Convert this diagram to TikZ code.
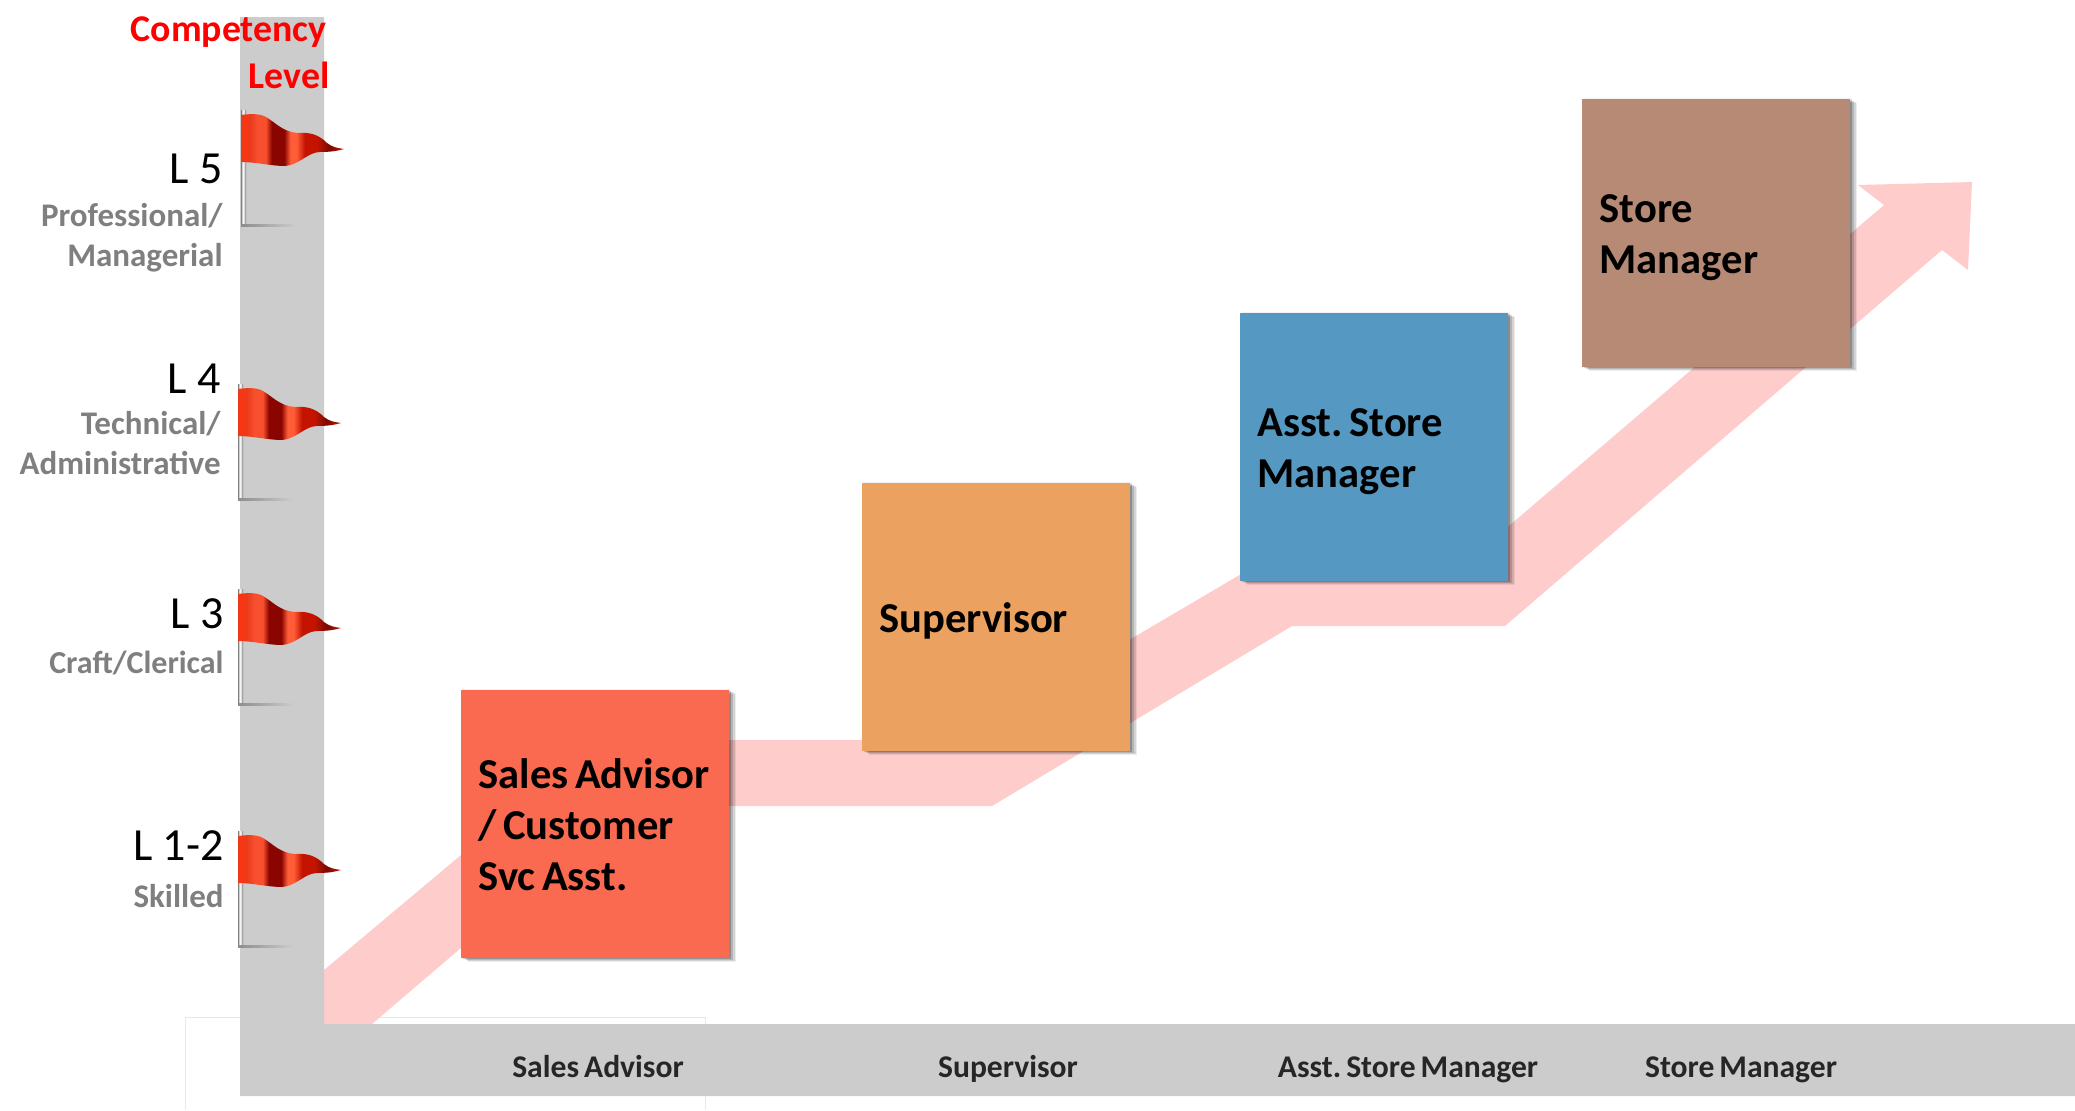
\documentclass[tikz,border=0pt]{standalone}
\usepackage{fontspec}
\setmainfont{Carlito}[BoldFeatures={WordSpace=0.7}]
\usetikzlibrary{shadows}
\frenchspacing
\definecolor{barc}{HTML}{CCCCCC}
\definecolor{arrowc}{HTML}{FFCCCC}
\definecolor{subc}{HTML}{7F7F7F}
\definecolor{boxa}{HTML}{F96A50}
\definecolor{boxb}{HTML}{EBA15F}
\definecolor{boxc}{HTML}{5598C2}
\definecolor{boxd}{HTML}{B78A75}
\definecolor{fa}{HTML}{E83A1C}
\definecolor{fb}{HTML}{FF3410}
\definecolor{fc}{HTML}{F8502E}
\definecolor{fd}{HTML}{8A0500}
\definecolor{fe}{HTML}{FF5C38}
\definecolor{ff}{HTML}{C41400}
\definecolor{fg}{HTML}{7A0A00}
\pgfdeclarehorizontalshading{flagshade}{100bp}{
  color(0bp)=(fa);
  color(25bp)=(fa);
  color(27bp)=(fb);
  color(29bp)=(fa);
  color(33bp)=(fc);
  color(37bp)=(fc);
  color(40bp)=(fd);
  color(46bp)=(fd);
  color(49bp)=(fe);
  color(52bp)=(fe);
  color(56bp)=(ff);
  color(62bp)=(ff);
  color(68bp)=(fg);
  color(75bp)=(ff);
  color(100bp)=(ff)}
\pgfdeclarehorizontalshading{poleshade}{100bp}{
  color(0bp)=(black!50);
  color(25bp)=(black!50);
  color(38bp)=(black!10);
  color(50bp)=(white);
  color(62bp)=(black!30);
  color(75bp)=(black!55);
  color(100bp)=(black!55)}
\tikzset{
  stepbox/.style={rectangle,minimum width=134pt,minimum height=134pt,inner xsep=0pt,inner ysep=0pt,
    text width=134pt,font=\fontsize{21.3}{25.5}\selectfont\bfseries,text=black,anchor=north west,
    execute at begin node={\leftskip=8.6pt\rightskip=0pt plus 20pt\parfillskip=0pt plus 1fil\spaceskip=3.2pt\rule{0pt}{18.5pt}},
    general shadow={fill=black,opacity=.05,shadow xshift=.7pt,shadow yshift=.7pt},
    general shadow={fill=black,opacity=.07,shadow xshift=3.5pt,shadow yshift=-1.7pt},
    general shadow={fill=black,opacity=.11,shadow xshift=2.8pt,shadow yshift=-1.4pt},
    general shadow={fill=black,opacity=.15,shadow xshift=2pt,shadow yshift=-1pt},
    general shadow={fill=black,opacity=.18,shadow xshift=1pt,shadow yshift=-.5pt}},
  heading/.style={font=\fontsize{18.9}{22}\selectfont\bfseries,text=red,anchor=east,inner sep=0pt},
  levelname/.style={font=\fontsize{23}{27}\selectfont,text=black,anchor=east,inner sep=0pt},
  levelsub/.style={font=\fontsize{16.5}{20}\selectfont\bfseries,text=subc,align=right,anchor=east,inner sep=0pt},
  axislabel/.style={font=\fontsize{15.8}{18}\selectfont\bfseries,text=black!85,anchor=base,inner sep=0pt},
  flagpic/.pic={
    \shade[shading=poleshade] (0,-5) rectangle (5,110);
    \shade[left color=black!45,right color=barc] (0,109) rectangle (55,111);
    \shade[shading=flagshade]
      (0,0) .. controls (8,-1) and (18,-2) .. (25,2)
      .. controls (35,8) and (42,17) .. (57,18)
      .. controls (70,17) and (78,20) .. (86,28)
      .. controls (91,32) and (96,33) .. (103,34)
      .. controls (96,36) and (90,37) .. (78,37)
      .. controls (66,38) and (58,50) .. (44,51)
      .. controls (30,51) and (15,47) .. (0,47) -- cycle;
  }
}
\begin{document}
\begin{tikzpicture}[x=0.5pt,y=-0.5pt]
\useasboundingbox (0,0) rectangle (2075,1110);
% faint frame behind the axis
\draw[black!9,line width=.5pt] (185,1110) -- (185,1017) -- (705,1017) -- (705,1110);
% rising arrow
\fill[arrowc] (324,970) -- (598,740) -- (959,740) -- (1265,560) -- (1469,560) -- (1884,205) -- (1858,185)
  -- (1972,182) -- (1968,270) -- (1942,250) -- (1505,626) -- (1292,626) -- (992,806) -- (627,806)
  -- (372,1024) -- (324,1024) -- cycle;
% axes
\fill[barc] (240,17) -- (324,17) -- (324,1024) -- (2075,1024) -- (2075,1096) -- (240,1096) -- cycle;
% flags
\pic at (241,115) {flagpic};
\pic at (238,389) {flagpic};
\pic at (238,594) {flagpic};
\pic at (238,836) {flagpic};
% headings
\node[heading] (comp) at (327,32) {Competency};
\node[heading] (lev) at (330,75) {Level};
% levels
\node[levelname] (l5) at (223,169) {L 5};
\node[levelsub] (l5s) at (223,238) {Professional/\\Managerial};
\node[levelname] (l4) at (221,379) {L 4};
\node[levelsub] (l4s) at (221,443) {Technical/\\Administrative};
\node[levelname] (l3) at (224,614) {L 3};
\node[levelsub,font=\fontsize{16}{20}\selectfont\bfseries] (l3s) at (224,663) {Craft/Clerical};
\node[levelname] (l12) at (224,846) {L 1-2};
\node[levelsub] (l12s) at (224,896) {Skilled};
% boxes
\node[stepbox,fill=boxa] (b1) at (461,690) {Sales Advisor\\/ Customer\\Svc Asst.\rule[-3.4pt]{0pt}{3.4pt}};
\node[stepbox,fill=boxb] (b2) at (862,483) {Supervisor};
\node[stepbox,fill=boxc] (b3) at (1240,313) {Asst. Store\\Manager};
\node[stepbox,fill=boxd] (b4) at (1582,99) {Store\\Manager};
% axis labels
\node[axislabel] (a1) at (598,1077) {Sales Advisor};
\node[axislabel] (a2) at (1008,1077) {Supervisor};
\node[axislabel] (a3) at (1408,1077) {Asst. Store Manager};
\node[axislabel] (a4) at (1741,1077) {Store Manager};
\end{tikzpicture}
\end{document}
